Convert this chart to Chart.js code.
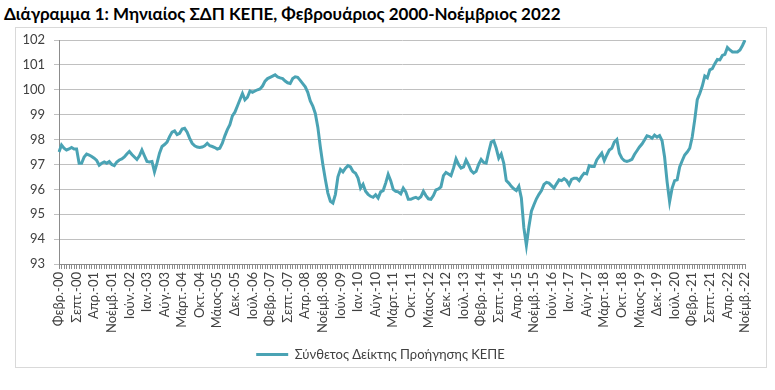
<!DOCTYPE html>
<html lang="el">

<head>
  <meta charset="UTF-8">
  <title>ΣΔΠ ΚΕΠΕ</title>
  <style>
    body {
      margin: 0;
      background-color: #ffffff;
      width: 775px;
      height: 390px;
      overflow: hidden;
      position: relative;
    }

    * {
      font-family: Lato, 'Open Sans', sans-serif;
    }

    #title {
      position: absolute;
      left: 4px;
      top: 3px;
      font-size: 17px;
      font-weight: bold;
      color: #000000;
      white-space: nowrap;
    }

    #chart-wrap {
      position: absolute;
      left: 16px;
      top: 28px;
    }

    #chart-box {
      position: absolute;
      left: 15px;
      top: 27px;
      width: 752px;
      height: 341px;
      border: 1px solid #d9d9d9;
      box-sizing: border-box;
      pointer-events: none;
    }
  </style>
</head>

<body>
  <div id="title">Διάγραμμα 1: Μηνιαίος ΣΔΠ ΚΕΠΕ, Φεβρουάριος 2000-Νοέμβριος 2022</div>
  <div id="chart-wrap">
    <canvas id="myChart" width="750" height="343"></canvas>
  </div>
  <div id="chart-box"></div>
  <script src="https://cdn.jsdelivr.net/npm/chart.js@4.4.1/dist/chart.umd.min.js"></script>
  <script>
    // data: monthly index, Feb 2000 .. Nov 2022
    const monthNames = ['Ιαν.', 'Φεβρ.', 'Μάρτ.', 'Απρ.', 'Μάιος', 'Ιούν.', 'Ιούλ.', 'Αύγ.', 'Σεπτ.', 'Οκτ.', 'Νοέμβ.', 'Δεκ.']
    const startYear = 2000
    const startMonth = 1 // Φεβρ.
    const labelEvery = 7
    const seriesName = 'Σύνθετος Δείκτης Προήγησης ΚΕΠΕ'

    const values2000_2004 = [
      97.5, 97.78, 97.65, 97.58, 97.62, 97.68, 97.62, 97.62, 97.05, 97.05, 97.3,
      97.42, 97.38, 97.32, 97.25, 97.16, 96.97, 97.05, 97.1, 97.05, 97.12, 97.0, 96.95,
      97.1, 97.18, 97.22, 97.3, 97.42, 97.52, 97.4, 97.3, 97.2, 97.35, 97.58, 97.35,
      97.12, 97.1, 97.12, 96.7, 97.05, 97.45, 97.72, 97.8, 97.9, 98.12, 98.3, 98.35,
      98.2, 98.25, 98.42, 98.45, 98.3, 98.05, 97.85, 97.75, 97.7, 97.68, 97.7, 97.75
    ]
    const values2005_2009 = [
      97.85, 97.75, 97.72, 97.68, 97.62, 97.65, 97.85, 98.15, 98.4, 98.6, 98.95, 99.1,
      99.35, 99.6, 99.85, 99.6, 99.7, 99.95, 99.9, 99.95, 100.0, 100.03, 100.15, 100.35,
      100.45, 100.5, 100.55, 100.6, 100.52, 100.48, 100.45, 100.35, 100.28, 100.25, 100.45, 100.52,
      100.5, 100.38, 100.25, 100.12, 99.9, 99.55, 99.35, 99.05, 98.5, 97.7, 97.0, 96.4,
      95.85, 95.52, 95.45, 95.8, 96.5, 96.8, 96.7, 96.85, 96.95, 96.9, 96.72, 96.65
    ]
    const values2010_2014 = [
      96.45, 96.05, 96.2, 95.92, 95.8, 95.72, 95.68, 95.78, 95.65, 95.9, 95.95, 96.25,
      96.6, 96.35, 96.0, 95.92, 95.9, 95.82, 96.05, 95.9, 95.6, 95.6, 95.65, 95.68,
      95.62, 95.7, 95.92, 95.75, 95.62, 95.6, 95.75, 95.98, 96.02, 96.1, 96.55, 96.68,
      96.62, 96.55, 96.85, 97.22, 97.0, 96.85, 96.9, 97.18, 96.98, 96.75, 96.65, 96.72,
      97.0, 97.2, 97.08, 97.05, 97.5, 97.9, 97.95, 97.65, 97.25, 97.42, 97.05, 96.35
    ]
    const values2015_2019 = [
      96.25, 96.12, 96.02, 95.95, 96.12, 95.65, 94.45, 93.75, 94.5, 95.12, 95.38, 95.62,
      95.8, 95.95, 96.2, 96.28, 96.25, 96.15, 96.05, 96.22, 96.38, 96.35, 96.43, 96.35,
      96.18, 96.4, 96.45, 96.45, 96.35, 96.52, 96.65, 96.62, 96.95, 96.92, 96.92, 97.18,
      97.32, 97.45, 97.15, 97.38, 97.58, 97.65, 97.9, 98.0, 97.45, 97.25, 97.15, 97.12,
      97.15, 97.2, 97.4, 97.55, 97.7, 97.82, 97.98, 98.15, 98.12, 98.05, 98.18, 98.1
    ]
    const values2020_2022 = [
      98.16, 97.95, 97.3, 96.3, 95.5, 96.05, 96.35, 96.38, 96.9, 97.15, 97.38, 97.5,
      97.65, 98.1, 98.8, 99.6, 99.85, 100.15, 100.55, 100.48, 100.8, 100.85, 101.05, 101.22,
      101.2, 101.38, 101.42, 101.7, 101.6, 101.52, 101.52, 101.52, 101.6, 101.78, 102.0
    ]
    const indexValues = [].concat(values2000_2004, values2005_2009, values2010_2014, values2015_2019, values2020_2022)

    const monthLabels = indexValues.map((v, i) => {
      const m = startMonth + i
      const year = startYear + Math.floor(m / 12)
      return monthNames[m % 12] + '-' + String(year % 100).padStart(2, '0')
    })

    const lineColor = '#4aa3b4'
    const gridColor = '#c0c0c0'
    const axisColor = '#8c8c8c'
    const textColor = '#404040'

    const ctx = document.getElementById('myChart').getContext('2d')
    const myChart = new Chart(ctx, {
      type: 'line',
      data: {
        labels: monthLabels,
        datasets: [{
          label: seriesName,
          data: indexValues,
          borderColor: lineColor,
          backgroundColor: lineColor,
          borderWidth: 3,
          pointRadius: 0,
          tension: 0,
          fill: false
        }]
      },
      options: {
        responsive: false,
        animation: false,
        layout: {
          padding: { top: 12, right: 21, left: 0, bottom: 0 }
        },
        plugins: {
          tooltip: { enabled: false },
          legend: {
            position: 'bottom',
            labels: {
              usePointStyle: true,
              pointStyle: 'line',
              pointStyleWidth: 32,
              color: textColor,
              padding: 10,
              font: { family: 'Lato', size: 13 }
            }
          }
        },
        scales: {
          x: {
            offset: false,
            grid: {
              drawOnChartArea: false,
              drawTicks: true,
              tickLength: 5,
              color: axisColor
            },
            border: { display: true, color: axisColor },
            ticks: {
              autoSkip: false,
              minRotation: 90,
              maxRotation: 90,
              padding: 3,
              color: textColor,
              font: { family: 'Lato', size: 13 },
              callback: (v, i) => i % labelEvery === 0 ? monthLabels[i] : ''
            },
            afterFit: (scale) => {
              scale.height = 74
              scale.paddingRight = 0
              scale.paddingLeft = 0
            }
          },
          y: {
            min: 93,
            max: 102,
            grid: {
              color: gridColor,
              tickLength: 5
            },
            border: { display: true, color: axisColor },
            ticks: {
              stepSize: 1,
              padding: 9,
              color: textColor,
              font: { family: 'Lato', size: 13 }
            },
            afterFit: (scale) => {
              scale.width = 43
              scale.paddingTop = 0
              scale.paddingBottom = 0
            }
          }
        }
      }
    })
  </script>
</body>

</html>
